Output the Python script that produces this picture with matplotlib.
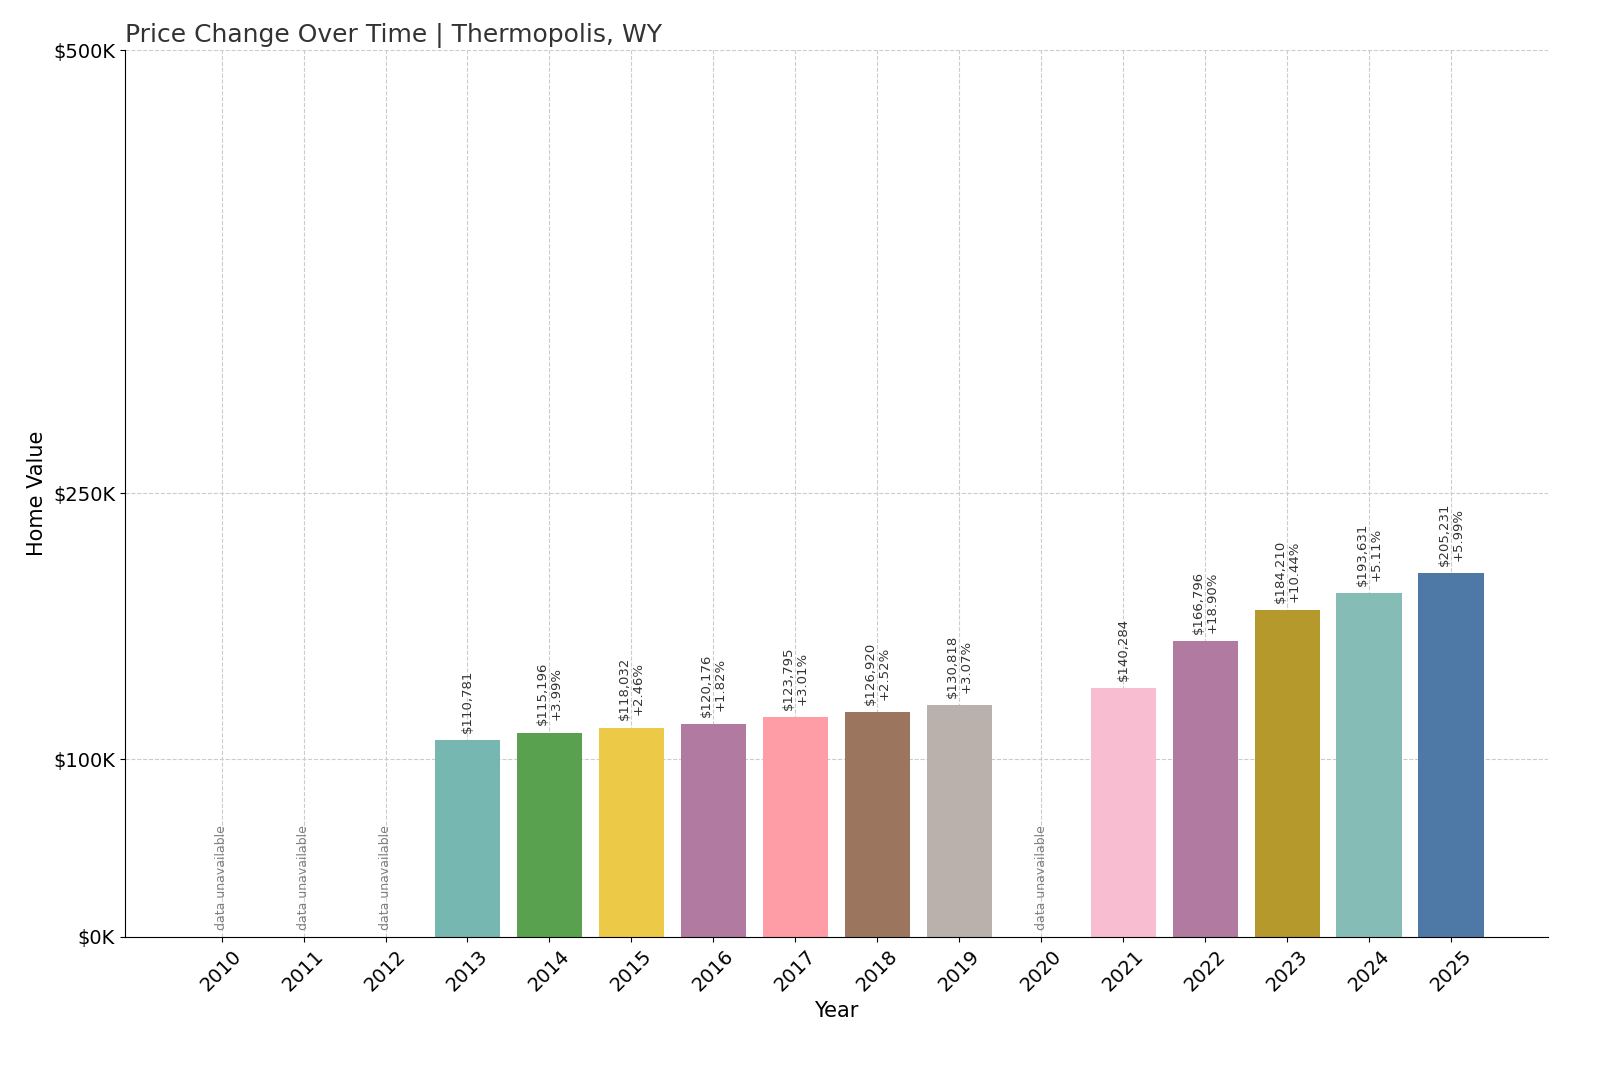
import matplotlib

matplotlib.use('Agg')
import matplotlib.pyplot as plt
import numpy as np

years = list(range(2010, 2026))
values = [None, None, None, 110781, 115196, 118032, 120176, 123795, 126920, 130818,
          None, 140284, 166796, 184210, 193631, 205231]
pct_labels = [None, None, None, None, '+3.99%', '+2.46%', '+1.82%', '+3.01%', '+2.52%', '+3.07%',
              None, None, '+18.90%', '+10.44%', '+5.11%', '+5.99%']
colors = ['#cccccc', '#cccccc', '#cccccc', '#76b7b2', '#59a14f', '#edc948', '#b07aa1', '#ff9da7',
          '#9c755f', '#bab0ac', '#cccccc', '#f9bdd1', '#b07aa1', '#b5992c', '#86bcb6', '#4e79a7']

fig = plt.figure(figsize=(16, 10.67), dpi=100)
ax = fig.add_axes([0.078, 0.122, 0.8895, 0.831])

x = np.arange(len(years))
for i, v in enumerate(values):
    if v is None:
        ax.text(i, 4000, 'data unavailable', rotation=90, ha='center', va='bottom',
                fontsize=9, color='gray')
        continue
    ax.bar(i, v, width=0.8, color=colors[i], zorder=2)
    label = f'${v:,}'
    if pct_labels[i]:
        label += '\n' + pct_labels[i]
    ax.text(i, v + 4000, label, rotation=90, ha='center', va='bottom', fontsize=9.5,
            color='#333333', linespacing=1.1)

ax.set_xlim(-1.18, len(years) - 1 + 1.18)
ax.set_ylim(0, 500000)
ax.set_xticks(x)
ax.set_xticklabels([str(y) for y in years], rotation=45, fontsize=14)
ax.set_yticks([0, 100000, 250000, 500000])
ax.set_yticklabels(['$0K', '$100K', '$250K', '$500K'], fontsize=14)
ax.grid(True, linestyle='--', color='#cccccc', linewidth=0.8, zorder=0)
ax.set_axisbelow(True)
ax.spines['top'].set_visible(False)
ax.spines['right'].set_visible(False)
ax.set_xlabel('Year', fontsize=15)
ax.set_ylabel('Home Value', fontsize=15)
ax.set_title('Price Change Over Time | Thermopolis, WY', loc='left', fontsize=18, color='#333333')

fig.savefig('out.png')
